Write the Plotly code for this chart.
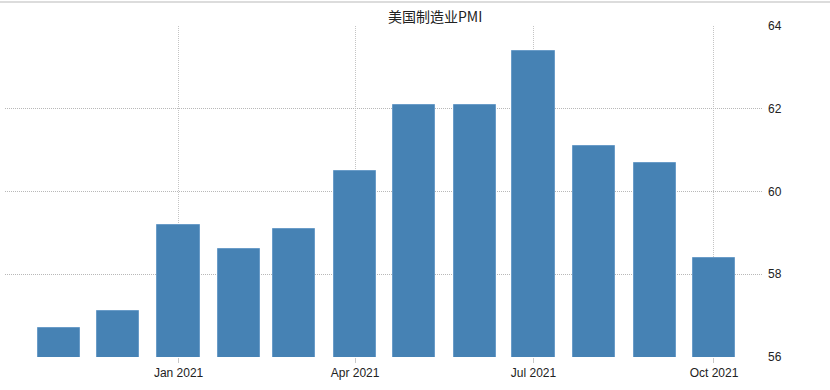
import plotly.graph_objects as go

months = ["2020-11-01", "2020-12-01", "2021-01-01", "2021-02-01", "2021-03-01", "2021-04-01",
          "2021-05-01", "2021-06-01", "2021-07-01", "2021-08-01", "2021-09-01", "2021-10-01"]
pmi = [56.7, 57.1, 59.2, 58.6, 59.1, 60.5, 62.1, 62.1, 63.4, 61.1, 60.7, 58.4]
tick_dates = ["2021-01-01", "2021-04-01", "2021-07-01", "2021-10-01"]
tick_labels = ["Jan 2021", "Apr 2021", "Jul 2021", "Oct 2021"]
y_ticks = [56, 58, 60, 62, 64]
title = "美国制造业PMI"

DAY = 86400000
fig = go.Figure(go.Bar(
    x=months, y=pmi, width=[21.5 * DAY] * len(months),
    marker=dict(color="#4682B4", line=dict(color="#6a9cc8", width=1)),
    hoverinfo="x+y",
))

W, H = 830, 390
l, r, t, b = 5, 67, 26, 33
fig.update_layout(
    width=W, height=H, margin=dict(l=l, r=r, t=t, b=b),
    paper_bgcolor="white", plot_bgcolor="white", showlegend=False,
    font=dict(family="Liberation Sans, DejaVu Sans", size=12, color="#222"),
    xaxis=dict(
        type="date", range=["2020-10-04T12:00", "2021-10-26"],
        tickvals=tick_dates, ticktext=tick_labels,
        showgrid=True, gridcolor="#c4c4c4", griddash="1px,1px", gridwidth=1,
        ticks="outside", ticklen=5, tickcolor="#c8c8c8",
        showline=False, zeroline=False,
        tickfont=dict(size=12, color="#222"),
    ),
    yaxis=dict(
        side="right", range=[56, 64], tickvals=y_ticks,
        showgrid=True, gridcolor="#b8b8b8", griddash="1px,1px", gridwidth=1,
        showline=False, zeroline=False, ticks="", ticklabelstandoff=4,
        tickfont=dict(size=12, color="#222"),
    ),
    bargap=0,
)
fig.add_annotation(
    text=title, xref="paper", yref="paper",
    x=(435 - l) / (W - l - r), y=1 + 10 / (H - t - b),
    xanchor="center", yanchor="middle", showarrow=False,
    font=dict(family="Noto Sans CJK SC", size=14, color="#222"),
)
fig.add_shape(type="line", xref="paper", yref="paper",
              x0=-l / (W - l - r), x1=1 + r / (W - l - r),
              y0=1 + 24 / (H - t - b), y1=1 + 24 / (H - t - b),
              line=dict(color="#dcdcdc", width=2))
fig.write_html("out.html")
